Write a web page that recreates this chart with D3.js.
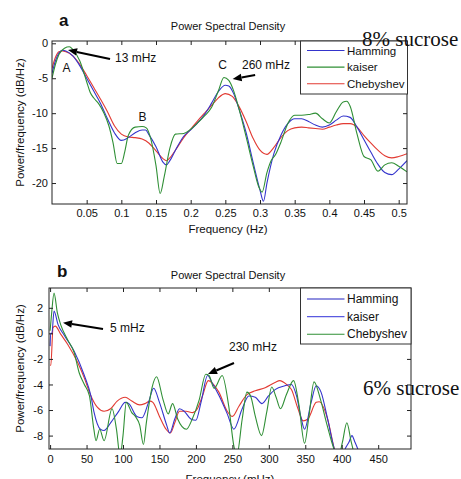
<!DOCTYPE html>
<html><head><meta charset="utf-8">
<script src="https://cdn.jsdelivr.net/npm/d3@7"></script>
<style>body{margin:0;background:#fff} svg{display:block} text{font-family:"Liberation Sans",Arial,sans-serif;fill:#111}</style>
</head><body><svg id="c" width="461" height="479"></svg>
<script>
// ---------- Panel a (8% sucrose), frequency in Hz ----------
const topHammingF = [0,0.005,0.01,0.015,0.02,0.03,0.04,0.05,0.06,0.07,0.08,0.09,0.1,0.11,0.12,0.13,0.135,0.14,0.15,0.16,0.165,0.17,0.178,0.19,0.2,0.21,0.22,0.23,0.24,0.25,0.255,0.262,0.27,0.28,0.29,0.30,0.305,0.31,0.32,0.33,0.34,0.35,0.36,0.37,0.38,0.39,0.40,0.41,0.42,0.43,0.44,0.45,0.46,0.47,0.48,0.49,0.50,0.512];
const topHammingV = [-4.3,-2.5,-1.4,-1.0,-1.1,-1.8,-3.2,-5.0,-6.8,-8.6,-10.8,-12.8,-13.9,-13.5,-12.8,-12.4,-12.4,-13.1,-14.8,-17.0,-17.4,-16.8,-15.3,-13.3,-12.4,-11.4,-10.2,-8.6,-6.9,-6.0,-6.1,-7.2,-9.5,-12.8,-17.0,-21.0,-22.6,-20.0,-15.8,-13.2,-11.5,-10.8,-10.8,-11.2,-11.7,-12.0,-11.7,-11.0,-10.4,-10.6,-12.0,-13.8,-15.6,-17.3,-18.5,-18.8,-18.0,-16.8];
const topKaiserF = [0,0.005,0.01,0.018,0.025,0.03,0.04,0.05,0.055,0.06,0.067,0.075,0.082,0.088,0.094,0.1,0.105,0.11,0.12,0.13,0.136,0.142,0.15,0.156,0.162,0.17,0.178,0.19,0.2,0.21,0.22,0.23,0.24,0.248,0.255,0.262,0.27,0.28,0.29,0.298,0.303,0.31,0.316,0.322,0.33,0.34,0.35,0.36,0.37,0.38,0.39,0.40,0.41,0.42,0.425,0.43,0.44,0.45,0.46,0.47,0.48,0.49,0.50,0.512];
const topKaiserV = [-5.0,-3.0,-1.6,-0.7,-0.5,-0.9,-2.5,-5.5,-7.0,-7.8,-8.6,-10.0,-11.8,-14.2,-17.2,-17.2,-15.5,-13.2,-12.0,-11.9,-12.1,-13.5,-17.5,-21.5,-19.0,-15.0,-13.0,-12.9,-12.3,-11.4,-10.4,-9.2,-6.8,-4.9,-5.3,-6.8,-9.5,-13.4,-17.5,-20.5,-21.3,-18.5,-16.8,-16.0,-14.2,-11.5,-10.3,-10.3,-10.2,-10.0,-10.8,-11.4,-9.8,-8.4,-8.3,-9.0,-13.0,-16.2,-16.7,-18.3,-17.4,-17.1,-17.6,-18.4];
const topChebyF = [0,0.005,0.01,0.015,0.02,0.03,0.04,0.05,0.06,0.07,0.08,0.09,0.1,0.11,0.12,0.13,0.14,0.15,0.16,0.165,0.17,0.178,0.19,0.2,0.21,0.22,0.23,0.24,0.25,0.26,0.27,0.28,0.29,0.30,0.31,0.32,0.33,0.34,0.35,0.36,0.37,0.38,0.39,0.40,0.41,0.42,0.43,0.44,0.45,0.46,0.47,0.48,0.49,0.50,0.512];
const topChebyV = [-3.6,-2.0,-1.2,-1.1,-1.2,-1.8,-3.0,-4.6,-6.3,-8.0,-9.8,-11.8,-13.0,-13.4,-13.5,-13.7,-14.3,-15.4,-16.5,-16.8,-16.4,-15.3,-13.5,-12.3,-11.1,-10.0,-8.9,-7.8,-7.2,-7.6,-9.1,-11.2,-13.6,-15.3,-15.9,-14.9,-13.5,-12.5,-12.1,-12.0,-12.1,-12.2,-12.3,-12.0,-11.7,-11.5,-11.5,-12.0,-13.2,-14.3,-15.3,-16.1,-16.4,-16.2,-15.8];
const topXTicks = [0.05,0.1,0.15,0.2,0.25,0.3,0.35,0.4,0.45,0.5];
const topXTickLabels = ["0.05","0.1","0.15","0.2","0.25","0.3","0.35","0.4","0.45","0.5"];
const topYTicks = [0,-5,-10,-15,-20];
const topLegend = ["Hamming","kaiser","Chebyshev"];

// ---------- Panel b (6% sucrose), frequency in mHz ----------
const botBlueF = [0,0.8,2.5,5.4,10.8,20,33,47,56,60,69,74,83,94,103,108,119,126,135,142,150,160,164,171,177.5,184,193,200,207,216,222.5,232,243,252,263.5,272.5,281.5,290.5,299.5,308.5,322,331,338,344.6,349,358,365,371.6,380.6,389.6,398,405,410,414,418,423,430,495];
const botBlueV = [-1.0,0.0,0.0,1.75,0.7,-0.2,-1.4,-3.3,-4.9,-6.1,-7.5,-7.6,-7.0,-6.1,-5.4,-5.5,-6.5,-6.6,-5.4,-4.3,-5.4,-7.2,-7.8,-6.7,-5.9,-6.1,-6.7,-6.8,-5.4,-3.3,-3.9,-4.9,-6.3,-7.5,-5.9,-4.9,-5.0,-5.5,-4.9,-4.4,-4.1,-4.0,-4.9,-6.7,-7.5,-5.4,-4.1,-4.6,-6.7,-9.0,-10.2,-9.0,-8.5,-8.0,-8.5,-9.2,-10.5,-12];
const botGreenF = [0,2,5.4,10,15,24,33,40,47,54,60,63,68,74,85,91,96,100,104.5,112,117,123,128,132,140,146,155,162,168,175,187,195,204.5,213.5,218,225,236,245,252,256,263.5,270,275,281.5,290,297,304,310,316,324,334,341,349,355,362,371,380,389,395,401,407,413,418,430,495];
const botGreenV = [0.2,1.5,3.15,1.6,0.6,-0.5,-1.5,-3.1,-4.0,-4.9,-7.5,-8.4,-7.5,-8.4,-5.9,-7.5,-9.6,-8.0,-5.4,-6.2,-6.5,-7.2,-8.7,-7.0,-4.2,-3.4,-5.2,-6.3,-5.5,-6.7,-7.5,-6.7,-5.2,-3.2,-3.3,-4.3,-3.3,-5.7,-8.8,-9.6,-6.7,-4.6,-4.9,-6.5,-8.0,-6.2,-4.2,-5.0,-5.9,-4.8,-3.7,-5.5,-8.6,-6.5,-3.8,-5.2,-7.2,-9.0,-9.8,-8.5,-7.0,-8.5,-9.6,-11,-12];
const botRedF = [0,1,4,7,15,24,38,47,56,65,74,83,92,103,112,123,130,137,141,150,159,165,171,177.5,186.5,195.5,202,209,217,222.5,231.5,243,250,259,270,281.5,295,308.5,315,324.3,331,340,347,353.6,365,369,380.6,389.6,400,495];
const botRedV = [-2.5,-2.5,0.45,0.57,-0.1,-0.85,-2.3,-3.5,-4.9,-5.8,-6.1,-5.9,-5.3,-5.0,-5.3,-5.6,-5.5,-5.3,-5.4,-6.5,-7.5,-7.8,-7.0,-6.1,-6.1,-6.2,-5.9,-4.9,-3.7,-3.9,-4.6,-6.1,-6.5,-5.7,-4.8,-4.5,-4.25,-3.85,-3.7,-4.0,-4.4,-5.9,-6.85,-6.7,-5.4,-5.35,-6.7,-9.0,-11,-12];
const botXTicks = [0,50,100,150,200,250,300,350,400,450];
const botYTicks = [2,0,-2,-4,-6,-8];
const botLegend = ["Hamming","kaiser","Chebyshev"];

// ---------- drawing ----------
const svg = d3.select("#c");
const C = {blue:"#3434cc", green:"#2f8f35", red:"#e23a32", blue2:"#5a5ae0"};

function zip(F, V){ return F.map((f,i)=>[f,V[i]]); }

function panel(o){
  const x = d3.scaleLinear().domain(o.xd).range([o.l, o.r]);
  const y = d3.scaleLinear().domain(o.yd).range([o.b, o.t]);
  const g = svg.append("g");
  const id = "clip"+o.name;
  svg.append("clipPath").attr("id", id).append("rect")
    .attr("x", o.l).attr("y", o.t).attr("width", o.r-o.l).attr("height", o.b-o.t);
  // series
  const line = d3.line().x(d=>x(d[0])).y(d=>y(d[1])).curve(d3.curveMonotoneX);
  const lg = g.append("g").attr("clip-path", `url(#${id})`);
  o.series.forEach(s=>{
    lg.append("path").datum(zip(s.f, s.v)).attr("d", line)
      .attr("fill","none").attr("stroke", s.c).attr("stroke-width", 1.1);
  });
  // axes (ticks inward)
  const fs = "11px";
  const ax = g.append("g").attr("transform",`translate(0,${o.b})`)
    .call(d3.axisBottom(x).tickValues(o.xt).tickFormat((d,i)=>o.xtl ? o.xtl[i] : String(d)).tickSize(-4).tickPadding(o.xpad));
  const at = g.append("g").attr("transform",`translate(0,${o.t})`)
    .call(d3.axisTop(x).tickValues(o.xt).tickFormat("").tickSize(-4));
  const ay = g.append("g").attr("transform",`translate(${o.l},0)`)
    .call(d3.axisLeft(y).tickValues(o.yt).tickFormat(d=>String(d)).tickSize(-4).tickPadding(o.ypad));
  const ar = g.append("g").attr("transform",`translate(${o.r},0)`)
    .call(d3.axisRight(y).tickValues(o.yt).tickFormat("").tickSize(-4));
  [ax,at,ay,ar].forEach(a=>{
    a.select(".domain").remove();
    a.selectAll("line").attr("stroke","#222");
    a.selectAll("text").style("font-size",fs).attr("fill","#111");
  });
  g.append("rect").attr("x",o.l).attr("y",o.t).attr("width",o.r-o.l).attr("height",o.b-o.t)
    .attr("fill","none").attr("stroke","#222").attr("stroke-width",1);
  // title, labels
  g.append("text").attr("x",o.tx).attr("y",o.ty).attr("text-anchor","middle").style("font-size","11px").text("Power Spectral Density");
  g.append("text").attr("transform",`translate(24,${(o.t+o.b)/2}) rotate(-90)`).attr("text-anchor","middle").style("font-size","11.5px").text("Power/frequency (dB/Hz)");
  g.append("text").attr("x",o.xlx).attr("y",o.xly).attr("text-anchor","middle").style("font-size","11.5px").text(o.xlabel);
  g.append("text").attr("x",o.px).attr("y",o.py).style("font-size","17px").style("font-weight","bold").attr("fill","#000").text(o.name);
  // annotations
  o.notes.forEach(n=>{
    g.append("text").attr("x",x(n[0])).attr("y",y(n[1])).attr("text-anchor",n[3]||"start").style("font-size","12px").text(n[2]);
  });
  o.arrows.forEach(a=>{
    const x1=x(a[0]), y1=y(a[1]), x2=x(a[2]), y2=y(a[3]);
    const ang = Math.atan2(y2-y1, x2-x1), L=9, Wd=3.8;
    const bx = x2 - L*Math.cos(ang), by = y2 - L*Math.sin(ang);
    g.append("line").attr("x1",x1).attr("y1",y1).attr("x2",bx).attr("y2",by).attr("stroke","#000").attr("stroke-width",2);
    const p = [[x2,y2],[bx+Wd*Math.sin(ang), by-Wd*Math.cos(ang)],[bx-Wd*Math.sin(ang), by+Wd*Math.cos(ang)]];
    g.append("polygon").attr("points", p.map(q=>q.join(",")).join(" ")).attr("fill","#000");
  });
  // legend
  const L = o.leg;
  g.append("rect").attr("x",L.x).attr("y",L.y).attr("width",L.w).attr("height",L.h)
    .attr("fill","#fff").attr("stroke","#333").attr("stroke-width",1);
  o.legend.forEach((name,i)=>{
    const yy = L.y0 + i*L.dy;
    g.append("line").attr("x1",L.x+6.5).attr("x2",L.x+44).attr("y1",yy).attr("y2",yy).attr("stroke",L.colors[i]).attr("stroke-width",1.1);
    g.append("text").attr("x",L.x+46.5).attr("y",yy+4).style("font-size",L.fs).text(name);
  });
  g.append("text").attr("x",o.sx).attr("y",o.sy).style("font-family",'"Liberation Serif","Times New Roman",serif').style("font-size","21px").attr("fill","#000").text(o.sucrose);
}

panel({
  name:"a", l:52, r:407, t:41, b:204, xd:[0,0.512], yd:[-23,0.33],
  xt:topXTicks, xtl:topXTickLabels, yt:topYTicks, xpad:5, ypad:4,
  series:[{f:topChebyF,v:topChebyV,c:C.red},{f:topHammingF,v:topHammingV,c:C.blue},{f:topKaiserF,v:topKaiserV,c:C.green}],
  tx:228, ty:30, xlabel:"Frequency (Hz)", xlx:228, xly:233, px:59, py:26,
  notes:[[0.021,-4.1,"A","middle"],[0.1306,-11.1,"B","middle"],[0.246,-3.68,"C","middle"],[0.0909,-2.68,"13 mHz"],[0.274,-3.68,"260 mHz"]],
  arrows:[[0.0837,-2.25,0.0231,-0.96],[0.293,-4.54,0.2605,-5.11]],
  leg:{x:300.5,y:41,w:107,h:53,y0:50.5,dy:16.6,fs:"11.5px",colors:[C.blue,C.green,C.red]},
  legend:topLegend, sx:362, sy:46, sucrose:"8% sucrose"
});

panel({
  name:"b", l:49, r:411, t:288, b:449, xd:[-1.5,495], yd:[-9.05,3.55],
  xt:botXTicks, xtl:null, yt:botYTicks, xpad:6, ypad:6,
  series:[{f:botRedF,v:botRedV,c:C.red},{f:botBlueF,v:botBlueV,c:C.blue},{f:botGreenF,v:botGreenV,c:C.green}],
  tx:228, ty:279, xlabel:"Frequency (mHz)", xlx:230, xly:483, px:57, py:277,
  notes:[[82.2,0.107,"5 mHz"],[245.4,-1.38,"230 mHz"]],
  arrows:[[72.6,0.34,17.7,0.84],[252.2,-2.32,216.6,-3.18]],
  leg:{x:300.5,y:288,w:110.5,h:56,y0:299,dy:17.6,fs:"12px",colors:["#2323c0",C.blue2,C.green]},
  legend:botLegend, sx:363, sy:395, sucrose:"6% sucrose"
});
</script></body></html>
